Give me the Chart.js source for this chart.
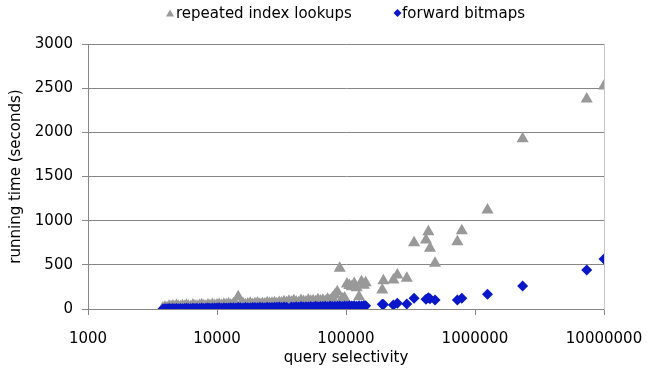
<!DOCTYPE html>
<html>
<head>
<meta charset="utf-8">
<script src="https://cdn.jsdelivr.net/npm/chart.js@4/dist/chart.umd.min.js"></script>
<style>
html,body{margin:0;padding:0;background:#fff;}
#wrap{width:647px;height:371px;}
</style>
</head>
<body>
<div id="wrap"><canvas id="c" width="647" height="371"></canvas></div>
<script>
const seriesNames = ['repeated index lookups', 'forward bitmaps'];
const xTickValues = [1000, 10000, 100000, 1000000, 10000000];
const yTickValues = [0, 500, 1000, 1500, 2000, 2500, 3000];
const axisTitles = ['query selectivity', 'running time (seconds)'];

const selectivity = [
  3800, 3950, 4100, 4250, 4400, 4550, 4700, 4850, 5000, 5200, 5400, 5600, 5800, 6000, 6250, 6500, 6750, 7000, 7300, 7600, 7900, 8200, 8500, 8800, 9200, 9600,
  10000, 10400, 10800, 11300, 11800, 12300, 12800, 13400, 14000, 14600, 15200, 15900, 16600, 17300, 18100, 18900, 19700, 20600, 21500, 22500, 23500, 24500, 25600, 26700, 27900, 29100,
  30400, 31700, 33100, 34600, 36100, 37700, 39400, 41100, 42900, 44800, 46800, 48900, 51000, 53300, 55600, 58100, 60600, 63300, 66100, 69000, 72000, 75200, 78500, 82000, 85600, 89400, 93300, 97400, 101700, 106200, 110900, 115800, 120900, 126200, 131800, 137600, 142000,
  191000, 195000, 233000, 250000, 296000, 337000, 417000, 435000, 448000, 490000, 730000, 790000, 1250000, 2340000, 7350000, 10000000
];

const indexLookupTimes = [
  10, 20, 15, 30, 25, 35, 20, 40, 30, 25, 38, 28, 42, 33, 26, 45, 35, 30, 40, 48, 36, 32, 44, 38, 50, 41,
  45, 52, 40, 55, 48, 58, 44, 60, 50, 139, 54, 62, 48, 57, 65, 52, 60, 68, 55, 63, 58, 70, 62, 66, 72, 60,
  75, 68, 82, 70, 88, 76, 92, 80, 72, 95, 85, 78, 100, 88, 94, 82, 105, 90, 98, 86, 110, 95, 125, 158, 196, 460, 115, 125, 283, 265, 252, 290, 240, 139, 309, 270, 298,
  215, 321, 328, 385, 347, 750, 781, 875, 687, 517, 762, 886, 1121, 1928, 2377, 2525
];

const bitmapTimes = [
  1, 3, 2, 5, 4, 6, 3, 5, 4, 7, 3, 6, 8, 5, 7, 9, 6, 8, 7, 10, 6, 9, 11, 8, 12, 10,
  11, 13, 9, 14, 12, 10, 15, 13, 11, 16, 14, 12, 17, 15, 13, 18, 16, 14, 19, 17, 15, 20, 18, 16, 21, 19,
  22, 18, 24, 20, 2, 23, 21, 25, 19, 27, 22, 26, 24, 28, 23, 30, 25, 29, 27, 31, 26, 33, 28, 32, 30, 35, 29, 34, 31, 37, 33, 36, 30, 38, 34, 40, 36,
  53, 50, 45, 64, 57, 121, 110, 128, 115, 102, 102, 121, 166, 260, 441, 566
];

const toPoints = (xs, ys) => xs.map((x, i) => ({x: x, y: ys[i]}));

const FONT = '"DejaVu Sans", Verdana, sans-serif';
const GRID = '#868686';
const GRAY = '#999999';
const BLUE = '#0a17c9';

// Legend drawn on the canvas, one entry per dataset
const legendPlugin = {
  id: 'simpleLegend',
  afterDraw(chart) {
    const ctx = chart.ctx;
    ctx.save();
    ctx.font = '15px ' + FONT;
    ctx.textBaseline = 'alphabetic';
    ctx.textAlign = 'left';
    // triangle entry
    ctx.fillStyle = GRAY;
    ctx.beginPath();
    ctx.moveTo(170, 9.5);
    ctx.lineTo(174, 16.5);
    ctx.lineTo(166, 16.5);
    ctx.closePath();
    ctx.fill();
    ctx.fillStyle = '#000';
    ctx.fillText(seriesNames[0], 176, 17.5);
    // diamond entry
    ctx.fillStyle = BLUE;
    ctx.beginPath();
    ctx.moveTo(397.5, 9);
    ctx.lineTo(401.5, 13);
    ctx.lineTo(397.5, 17);
    ctx.lineTo(393.5, 13);
    ctx.closePath();
    ctx.fill();
    ctx.fillStyle = '#000';
    ctx.fillText(seriesNames[1], 402, 17.5);
    ctx.restore();
  }
};

new Chart(document.getElementById('c'), {
  type: 'scatter',
  data: {
    datasets: [
      {
        label: seriesNames[1],
        data: toPoints(selectivity, bitmapTimes),
        pointStyle: 'rectRot',
        pointRadius: 5.5,
        pointHoverRadius: 5.5,
        backgroundColor: BLUE,
        borderColor: BLUE,
        borderWidth: 0
      },
      {
        label: seriesNames[0],
        data: toPoints(selectivity, indexLookupTimes),
        pointStyle: 'triangle',
        pointRadius: 7,
        pointHoverRadius: 7,
        backgroundColor: GRAY,
        borderColor: GRAY,
        borderWidth: 0
      }
    ]
  },
  options: {
    responsive: false,
    animation: false,
    events: [],
    layout: {padding: {top: 44, right: 43, bottom: 0, left: 0}},
    plugins: {
      tooltip: {enabled: false},
      legend: {display: false}
    },
    scales: {
      x: {
        type: 'logarithmic',
        min: 1000,
        max: 10000000,
        afterBuildTicks: s => { s.ticks = xTickValues.map(v => ({value: v})); },
        afterFit: s => { s.height = 62; s.paddingLeft = 0; s.paddingRight = 0; },
        ticks: {
          callback: v => String(v),
          color: '#000',
          font: {family: FONT, size: 15},
          padding: 15,
          maxRotation: 0,
          autoSkip: false
        },
        grid: {drawOnChartArea: false, drawTicks: true, tickLength: 6, color: GRID},
        border: {color: GRID, width: 1},
        title: {display: true, text: axisTitles[0], color: '#000', font: {family: FONT, size: 15}, padding: {top: 0, bottom: 4}}
      },
      y: {
        type: 'linear',
        min: 0,
        max: 3000,
        afterBuildTicks: s => { s.ticks = yTickValues.map(v => ({value: v})); },
        afterFit: s => { s.width = 88; s.paddingTop = 0; s.paddingBottom = 0; },
        ticks: {
          callback: v => String(v),
          color: '#000',
          font: {family: FONT, size: 15},
          padding: 9
        },
        grid: {drawOnChartArea: true, drawTicks: true, tickLength: 6, color: GRID},
        border: {color: GRID, width: 1},
        title: {display: true, text: axisTitles[1], color: '#000', font: {family: FONT, size: 15}, padding: {top: 7, bottom: 0}}
      },
      yRight: {
        type: 'linear',
        position: 'right',
        min: 0,
        max: 3000,
        afterFit: s => { s.width = 0; s.paddingTop = 0; s.paddingBottom = 0; },
        ticks: {display: false},
        grid: {drawOnChartArea: false, drawTicks: false},
        border: {color: '#c8c8c8', width: 1}
      }
    }
  },
  plugins: [legendPlugin]
});
</script>
</body>
</html>
